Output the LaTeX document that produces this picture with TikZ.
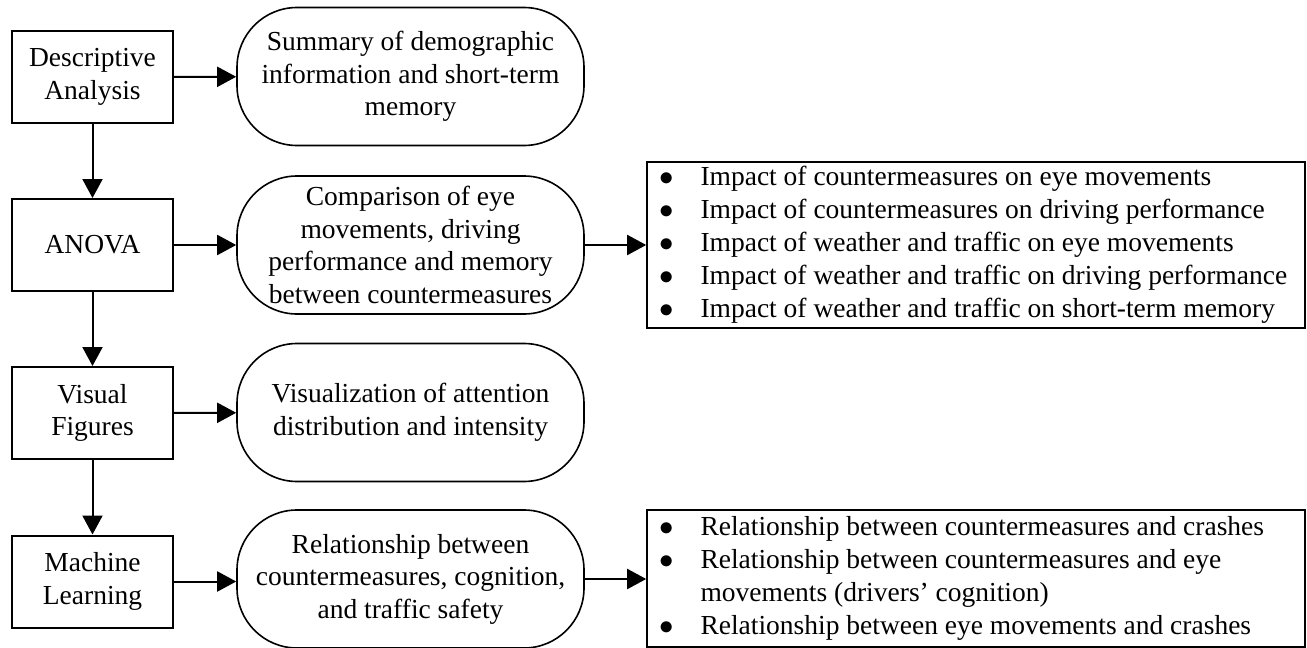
\documentclass[tikz,border=0pt]{standalone}
\usepackage{fontspec}
\setmainfont{Liberation Serif}
\usetikzlibrary{arrows.meta}

\begin{document}
\begin{tikzpicture}[x=0.5pt,y=-0.5pt,>={Triangle[length=9.5pt,width=10pt]},
	every node/.style={font=\fontsize{13.75pt}{16.25pt}\selectfont,align=center,inner sep=0pt},
	stagebox/.style={draw,line width=1pt,minimum width=80.5pt,minimum height=46pt},
	ovalbox/.style={draw,line width=0.8pt,rounded corners=30pt,minimum width=173.5pt,minimum height=69pt},
	listbox/.style={draw,line width=0.8pt,minimum width=329pt,font=\fontsize{13.75pt}{16.5pt}\selectfont}]
	\useasboundingbox (0,0) rectangle (1307,648);
	% analysis steps
	\node[stagebox] (desc) at (92.5,77) {Descriptive\\Analysis};
	\node[stagebox] (anova) at (92.5,245) {ANOVA};
	\node[stagebox] (visual) at (92.5,413) {Visual\\Figures};
	\node[stagebox] (ml) at (92.5,581.5) {Machine\\Learning};
	% outcomes
	\node[ovalbox] (summary) at (410.5,76.5) {Summary of demographic\\information and short-term\\memory};
	\node[ovalbox] (compare) at (410.5,245) {Comparison of eye\\movements, driving\\performance and memory\\between countermeasures};
	\node[ovalbox] (attention) at (410.5,412.5) {Visualization of attention\\distribution and intensity};
	\node[ovalbox] (relation) at (410.5,579) {Relationship between\\countermeasures, cognition,\\and traffic safety};
	% findings
	\node[listbox,minimum height=83pt] (impacts) at (976,245) {\begin{tabular}{@{}p{20.5pt}@{}p{296pt}@{}}
		$\bullet$ & Impact of countermeasures on eye movements\\
		$\bullet$ & Impact of countermeasures on driving performance\\
		$\bullet$ & Impact of weather and traffic on eye movements\\
		$\bullet$ & Impact of weather and traffic on driving performance\\
		$\bullet$ & Impact of weather and traffic on short-term memory
	\end{tabular}};
	\node[listbox,minimum height=68.5pt] (links) at (976,578.5) {\begin{tabular}{@{}p{20.5pt}@{}p{296pt}@{}}
		$\bullet$ & Relationship between countermeasures and crashes\\
		$\bullet$ & Relationship between countermeasures and eye\\
		 & movements (drivers' cognition)\\
		$\bullet$ & Relationship between eye movements and crashes
	\end{tabular}};
	% connectors
	\draw[->,line width=1pt] (desc) -- (anova);
	\draw[->,line width=1pt] (anova) -- (visual);
	\draw[->,line width=1pt] (visual) -- (ml);
	\draw[->,line width=1pt] (desc) -- (summary);
	\draw[->,line width=1pt] (anova) -- (compare);
	\draw[->,line width=1pt] (visual) -- (attention);
	\draw[->,line width=1pt] (ml) -- (ml -| relation.west);
	\draw[->,line width=1pt] (compare) -- (compare -| impacts.west);
	\draw[->,line width=1pt] (relation.east) -- (relation.east -| links.west);
\end{tikzpicture}
\end{document}
